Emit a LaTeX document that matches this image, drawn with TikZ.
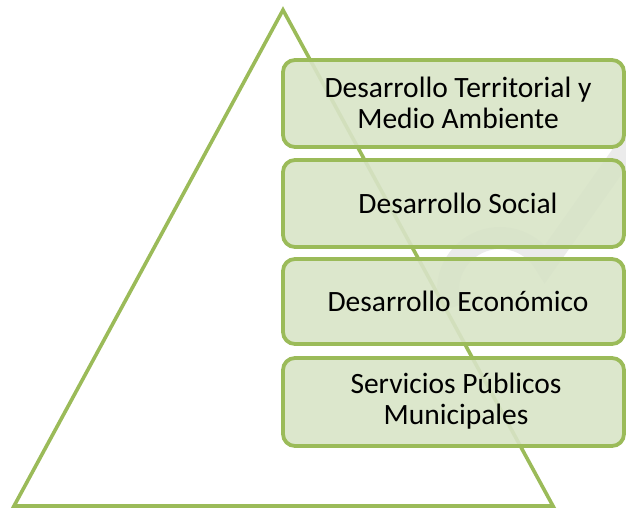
\documentclass[tikz,border=0pt]{standalone}
\usepackage{fontspec}
\setmainfont{Carlito}
\definecolor{lineg}{RGB}{155,187,89}
\definecolor{boxfill}{RGB}{216,228,199}
\begin{document}
\begin{tikzpicture}[x=1pt,y=-1pt,
  boxst/.style={draw=lineg, line width=3.8pt, rounded corners=12pt, fill=boxfill, fill opacity=0.9, text opacity=1},
  lbl/.style={font=\fontsize{29.5}{31}\selectfont, align=center, text=black}]
\useasboundingbox (0,0) rectangle (626,508);
\clip (0,0) rectangle (626,508);
% faint background arc
\draw[gray!16, line width=22pt] (500,290) ++(160:52) arc[start angle=160, end angle=330, radius=52] -- (650,115);
% triangle
\coordinate (apex) at (283,10);
\coordinate (bl) at (14,506);
\coordinate (br) at (553,506);
\draw[lineg, line width=3.6pt, line join=miter] (apex) -- (bl) -- (br) -- cycle;
% boxes
\draw[boxst] (283,60) rectangle (624,147);
\draw[boxst] (283,160) rectangle (624,247);
\draw[boxst] (283,259) rectangle (624,344);
\draw[boxst] (283,358) rectangle (624,446);
\node[lbl] (b1) at (458,103) {Desarrollo Territorial y\\Medio Ambiente};
\node[lbl] (b2) at (458,203) {Desarrollo Social};
\node[lbl] (b3) at (458,301) {Desarrollo Económico};
\node[lbl] (b4) at (456,401) {Servicios Públicos\\Municipales};
\end{tikzpicture}
\end{document}
